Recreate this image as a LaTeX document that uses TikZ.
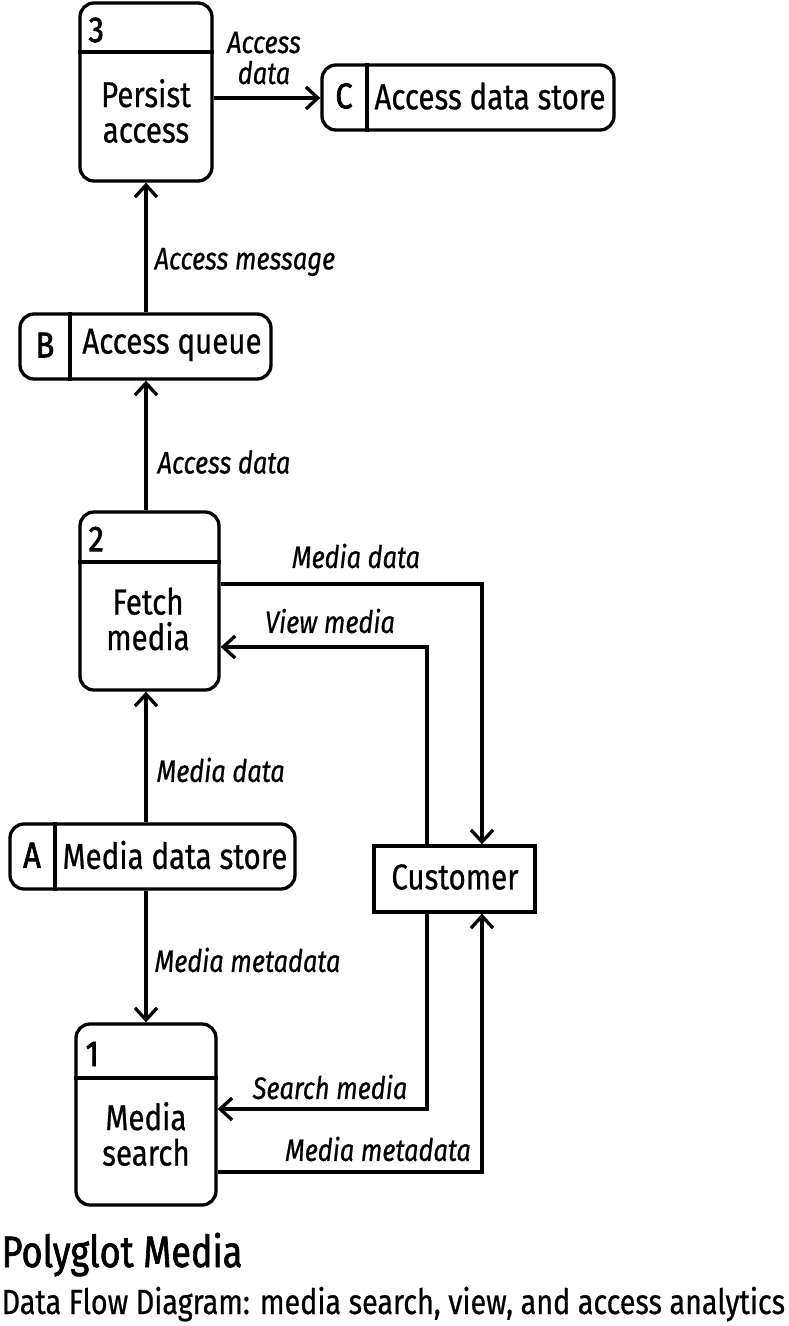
\documentclass[tikz,border=0pt]{standalone}
\usepackage{fontspec}
\setmainfont{Fira Sans}[FakeStretch=0.82,FakeBold=0.6]
\newfontfamily\numfont{Fira Sans}[FakeStretch=0.85,FakeBold=2]
\newfontfamily\titlefont{Fira Sans}[FakeStretch=0.82,FakeBold=1.5]
\usetikzlibrary{arrows.meta}
\begin{document}
\begin{tikzpicture}[x=1pt,y=-1pt,line width=3.3pt,
  box/.style={draw,rounded corners=14pt,inner sep=0pt},
  ent/.style={draw,sharp corners,inner sep=0pt},
  txt/.style={font=\fontsize{36}{35.5}\selectfont,align=center,inner sep=0pt},
  num/.style={font=\numfont\fontsize{36}{36}\selectfont,inner sep=0pt},
  lbl/.style={font=\fontsize{31}{31}\selectfont\itshape,align=center,inner sep=0pt},
  flow/.style={-{Straight Barb[length=12pt,width=22pt]}}]
\useasboundingbox (0,0) rectangle (789,1326);
\coordinate (col) at (146,0);
\coordinate (cin) at (427,0);
\coordinate (cout) at (482,0);
% process 3
\node[box,minimum width=132pt,minimum height=178pt] (p3) at (146,92) {};
\draw (p3.west |- 0,52) -- (p3.east |- 0,52);
\node[num,anchor=west] (n3) at (87,30) {3};
\node[txt] (t3) at (146,111) {Persist\\access};
% store C
\node[box,minimum width=292pt,minimum height=65pt] (sc) at (468,97.5) {};
\draw (sc.north -| 367,0) -- (sc.south -| 367,0);
\node[num] (lc) at (344,96) {C};
\node[txt] (tc) at (490,96) {Access data store};
% store B
\node[box,minimum width=251pt,minimum height=65pt] (sb) at (145.5,346.5) {};
\draw (sb.north -| 70,0) -- (sb.south -| 70,0);
\node[num] (lb) at (45,345) {B};
\node[txt] (tb) at (172,345) {Access queue};
% process 2
\node[box,minimum width=139pt,minimum height=178pt] (p2) at (149.5,601) {};
\draw (p2.west |- 0,562) -- (p2.east |- 0,562);
\node[num,anchor=west] (n2) at (87,539) {2};
\node[txt] (t2) at (148,619) {Fetch\\media};
% store A
\node[box,minimum width=285pt,minimum height=65pt] (sa) at (152.5,856.5) {};
\draw (sa.north -| 55,0) -- (sa.south -| 55,0);
\node[num] (la) at (32,855) {A};
\node[txt] (ta) at (175,855) {Media data store};
% customer
\node[ent,minimum width=161pt,minimum height=66pt] (cu) at (454.5,879) {};
\node[txt] (tcu) at (455,877) {Customer};
% process 1
\node[box,minimum width=140pt,minimum height=181pt] (p1) at (146,1114.5) {};
\draw (p1.west |- 0,1078) -- (p1.east |- 0,1078);
\node[num,anchor=west] (n1) at (84,1054) {1};
\node[txt] (t1) at (146,1134) {Media\\search};
% flows
\draw[flow] (p3.east |- 0,98) -- (sc.west |- 0,98);
\node[lbl] (l1) at (264,58) {Access\\data};
\draw[flow] (sb.north -| col) -- (p3.south -| col);
\node[lbl,anchor=west] (l2) at (153,262) {Access message};
\draw[flow] (p2.north -| col) -- (sb.south -| col);
\node[lbl,anchor=west] (l3) at (156,462) {Access data};
\draw[flow] (p2.east |- 0,584) -| (cu.north -| cout);
\node[lbl] (l4) at (356,556) {Media data};
\draw[flow] (cu.north -| cin) |- (p2.east |- 0,647);
\node[lbl] (l5) at (330,621) {View media};
\draw[flow] (sa.north -| col) -- (p2.south -| col);
\node[lbl,anchor=west] (l6) at (155,770) {Media data};
\draw[flow] (sa.south -| col) -- (p1.north -| col);
\node[lbl,anchor=west] (l7) at (153,960) {Media metadata};
\draw[flow] (cu.south -| cin) |- (p1.east |- 0,1109);
\node[lbl] (l8) at (330,1087) {Search media};
\draw[flow] (p1.east |- 0,1172) -| (cu.south -| cout);
\node[lbl] (l9) at (378,1149) {Media metadata};
% title
\node[font=\titlefont\fontsize{44}{46}\selectfont,anchor=base west,inner sep=0pt] (title) at (0,1267) {Polyglot Media};
\node[font=\fontsize{35}{37}\selectfont,anchor=base west,inner sep=0pt] (sub) at (0,1314) {Data Flow Diagram: media search, view, and access analytics};
\end{tikzpicture}
\end{document}
